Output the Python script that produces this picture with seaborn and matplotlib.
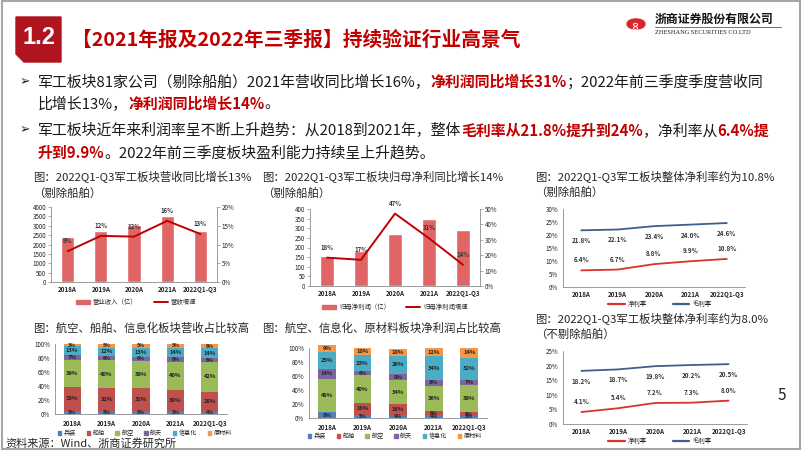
import matplotlib
matplotlib.use('Agg')
import matplotlib.pyplot as plt
from matplotlib.patches import Patch, Polygon, Rectangle, Circle
from matplotlib.lines import Line2D
import numpy as np
import seaborn as sns

# 数据
years = ['2018A', '2019A', '2020A', '2021A', '2022Q1-Q3']
revenue = [2420, 2700, 3030, 3520, 2700]
revenue_growth = [8.2, 12.3, 12.1, 16.3, 12.8]
revenue_growth_labels = ['8%', '12%', '12%', '16%', '13%']
profit = [155, 180, 268, 350, 293]
profit_growth = [18.4, 17.0, 47.0, 31.0, 13.8]
profit_growth_labels = ['18%', '17%', '47%', '31%', '14%']
net_margin_ex = [6.4, 6.7, 8.8, 9.9, 10.8]
gross_margin_ex = [21.8, 22.1, 23.4, 24.0, 24.6]
net_margin_all = [4.1, 5.4, 7.2, 7.3, 8.0]
gross_margin_all = [18.2, 18.7, 19.8, 20.2, 20.5]
sectors = ['兵装', '船舶', '航空', '航天', '信息化', '原材料']
rev_share = {
    '兵装': [5, 5, 5, 5, 4],
    '船舶': [33, 32, 32, 30, 28],
    '航空': [39, 40, 39, 40, 42],
    '航天': [7, 6, 6, 6, 6],
    '信息化': [13, 12, 13, 14, 14],
    '原材料': [3, 5, 5, 5, 6],
}
profit_share = {
    '兵装': [8, 5, 4, 4, 3],
    '船舶': [0, 16, 16, 6, 5],
    '航空': [48, 40, 34, 36, 39],
    '航天': [14, 6, 9, 8, 7],
    '信息化': [25, 23, 26, 34, 32],
    '原材料': [9, 10, 10, 12, 14],
}
sector_colors = ['#4F81BD', '#C0504D', '#9BBB59', '#8064A2', '#4BACC6', '#F79646']

W, H = 802, 451
sns.set_theme(style='white')
plt.rcParams['font.family'] = ['Noto Sans CJK SC', 'DejaVu Sans']
plt.rcParams['axes.unicode_minus'] = False

fig = plt.figure(figsize=(W / 100, H / 100), dpi=100)
fig.patch.set_facecolor('white')
renderer = fig.canvas.get_renderer()

RED = '#C00000'
GRAY = '#8C8C8C'


def fx(x):
    return x / W


def fy(y):
    return 1 - y / H


def box(x0, y0, x1, y1):
    return fig.add_axes([fx(x0), fy(y1), (x1 - x0) / W, (y1 - y0) / H])


def rich(x, y, parts, size):
    for s, red in parts:
        t = fig.text(fx(x), fy(y), s, fontsize=size, va='center', ha='left',
                     color=RED if red else '#1A1A1A',
                     weight='bold' if red else 'normal')
        x += t.get_window_extent(renderer).width


def style_axis(ax, fs=4.5):
    for s in ['top', 'right']:
        ax.spines[s].set_visible(False)
    for s in ['left', 'bottom']:
        ax.spines[s].set_color(GRAY)
        ax.spines[s].set_linewidth(0.6)
    ax.tick_params(axis='both', labelsize=fs, length=2, width=0.5, color=GRAY,
                   pad=1.5, labelcolor='#222222')
    ax.tick_params(axis='x', length=0, pad=3)
    for lab in ax.get_xticklabels():
        lab.set_fontweight('bold')
    ax.set_xlabel('')
    ax.set_ylabel('')


# ---- 页眉 ----
fig.add_artist(Rectangle((0.002, 0.004), 0.996, 0.994, transform=fig.transFigure,
                         fill=False, edgecolor='#A6A6A6', lw=1.5))
fig.add_artist(Polygon([[fx(16), fy(17)], [fx(61), fy(17)], [fx(61), fy(62)],
                        [fx(24), fy(62)], [fx(16), fy(54)]],
                       closed=True, transform=fig.transFigure, color='#B0141E'))
fig.text(fx(38.5), fy(38), '1.2', color='white', fontsize=17, weight='bold',
         ha='center', va='center', family='Liberation Sans')
fig.text(fx(72), fy(40), '【2021年报及2022年三季报】持续验证行业高景气', color=RED,
         fontsize=14.2, weight='bold', ha='left', va='center')
fig.add_artist(Circle((fx(636), fy(24)), 9 / W, transform=fig.transFigure,
                      color='#D7262B'))
fig.text(fx(636), fy(24), '∞', color='white', fontsize=8, ha='center', va='center',
         rotation=90, family='DejaVu Sans', weight='bold')
fig.text(fx(655), fy(19), '浙商证券股份有限公司', fontsize=8.6, weight='bold',
         ha='left', va='center', color='#111111')
fig.add_artist(Line2D([fx(655), fx(781)], [fy(27), fy(27)], transform=fig.transFigure,
                      color='#D7262B', lw=0.6))
fig.text(fx(655), fy(32.5), 'ZHESHANG SECURITIES CO.LTD', fontsize=4.6,
         family='Liberation Serif', ha='left', va='center', color='#222222')

# ---- 要点 ----
bfs = 10.75
for yy in (82, 130):
    fig.text(fx(20), fy(yy), '➢', fontsize=9, va='center', ha='left',
             family=['DejaVu Sans'], color='#1A1A1A')
rich(38, 82, [('军工板块81家公司（剔除船舶）2021年营收同比增长16%，', False),
              ('净利润同比增长31%', True), ('；2022年前三季度季度营收同', False)], bfs)
rich(38, 104, [('比增长13%，', False), ('净利润同比增长14%', True), ('。', False)], bfs)
rich(38, 131, [('军工板块近年来利润率呈不断上升趋势：从2018到2021年，整体', False),
               ('毛利率从21.8%提升到24%', True), ('，净利率从', False),
               ('6.4%提', True)], bfs)
rich(38, 153, [('升到9.9%', True), ('。2022年前三季度板块盈利能力持续呈上升趋势。', False)], bfs)

tfs = 8.2
fig.text(fx(33), fy(177), '图：2022Q1-Q3军工板块营收同比增长13%', fontsize=tfs, va='center')
fig.text(fx(33), fy(193), '（剔除船舶）', fontsize=tfs, va='center')
fig.text(fx(262), fy(177), '图：2022Q1-Q3军工板块归母净利同比增长14%', fontsize=tfs, va='center')
fig.text(fx(262), fy(193), '（剔除船舶）', fontsize=tfs, va='center')
fig.text(fx(535), fy(176), '图：2022Q1-Q3军工板块整体净利率约为10.8%', fontsize=tfs, va='center')
fig.text(fx(535), fy(192), '（剔除船舶）', fontsize=tfs, va='center')
fig.text(fx(33), fy(328), '图：航空、船舶、信息化板块营收占比较高', fontsize=tfs, va='center')
fig.text(fx(262), fy(328), '图：航空、信息化、原材料板块净利润占比较高', fontsize=tfs, va='center')
fig.text(fx(535), fy(318), '图：2022Q1-Q3军工板块整体净利率约为8.0%', fontsize=tfs, va='center')
fig.text(fx(535), fy(334), '（不剔除船舶）', fontsize=tfs, va='center')
fig.text(fx(5), fy(443), '资料来源：Wind、浙商证券研究所', fontsize=8, va='center')
fig.text(fx(782), fy(396), '5', fontsize=11, va='center', ha='center', color='#222222')

BAR = '#E06666'
xs = np.arange(len(years))


def bar_line(ax, bars, growth, labels, ymax, ystep, rmax, rstep, names, legend_xy):
    sns.barplot(x=years, y=bars, ax=ax, color=BAR, width=0.4, saturation=1)
    ax.set_ylim(0, ymax)
    ax.set_yticks(np.arange(0, ymax + 1, ystep))
    style_axis(ax)
    ax2 = ax.twinx()
    sns.lineplot(x=xs, y=growth, ax=ax2, color=RED, lw=1.4)
    ax2.set_ylim(0, rmax)
    ax2.set_yticks(np.arange(0, rmax + 0.1, rstep))
    ax2.set_yticklabels([f'{int(v)}%' for v in np.arange(0, rmax + 0.1, rstep)])
    ax2.set_xlim(-0.5, len(years) - 0.5)
    for s in ['top', 'left', 'bottom']:
        ax2.spines[s].set_visible(False)
    ax2.spines['right'].set_color(GRAY)
    ax2.spines['right'].set_linewidth(0.6)
    ax2.tick_params(axis='y', labelsize=4.5, length=2, width=0.5, color=GRAY, pad=1.5,
                    labelcolor='#222222')
    ax2.set_ylabel('')
    for i, (v, lab) in enumerate(zip(growth, labels)):
        ax2.annotate(lab, (i, v), xytext=(0, 5), textcoords='offset points',
                     ha='center', va='bottom', fontsize=4.3, weight='bold', color='#333333')
    handles = [Patch(color=BAR), Line2D([0], [0], color=RED, lw=1.4)]
    fig.legend(handles, names, loc='center', bbox_to_anchor=(fx(legend_xy[0]), fy(legend_xy[1])),
               ncol=2, frameon=False, fontsize=4.6, handlelength=2.2, handleheight=0.7,
               columnspacing=2.5, handletextpad=0.5)


ax1 = box(51, 207, 217, 282)
bar_line(ax1, revenue, revenue_growth, revenue_growth_labels, 4000, 500, 20, 5,
         ['营业收入（亿）', '营收增速'], (136, 302))
ax2 = box(310, 209, 480, 286)
bar_line(ax2, profit, profit_growth, profit_growth_labels, 400, 50, 50, 10,
         ['归母净利润（亿）', '归母净利润增速'], (395, 307))


def margin_chart(ax, net, gross, ymax, legend_xy):
    sns.lineplot(x=xs, y=gross, ax=ax, color='#3D5F8C', lw=1.3)
    sns.lineplot(x=xs, y=net, ax=ax, color='#D9312B', lw=1.3)
    ax.set_xlim(-0.5, len(years) - 0.5)
    ax.set_ylim(0, ymax)
    ticks = np.arange(0, ymax + 0.1, 5)
    ax.set_yticks(ticks)
    ax.set_yticklabels([f'{int(t)}%' for t in ticks])
    ax.set_xticks(xs)
    ax.set_xticklabels(years)
    style_axis(ax)
    for i in xs:
        ax.annotate(f'{gross[i]:.1f}%', (i, gross[i]), xytext=(0, -5), textcoords='offset points',
                    ha='center', va='top', fontsize=4.5, weight='bold', color='#333333')
        ax.annotate(f'{net[i]:.1f}%', (i, net[i]), xytext=(0, 5), textcoords='offset points',
                    ha='center', va='bottom', fontsize=4.5, weight='bold', color='#333333')
    handles = [Line2D([0], [0], color='#D9312B', lw=1.6), Line2D([0], [0], color='#3D5F8C', lw=1.6)]
    fig.legend(handles, ['净利率', '毛利率'], loc='center',
               bbox_to_anchor=(fx(legend_xy[0]), fy(legend_xy[1])), ncol=2, frameon=False,
               fontsize=4.6, handlelength=2.6, columnspacing=4, handletextpad=0.5)


ax3 = box(563, 209, 745, 287)
margin_chart(ax3, net_margin_ex, gross_margin_ex, 30, (660, 304))
ax6 = box(563, 351, 747, 424)
margin_chart(ax6, net_margin_all, gross_margin_all, 25, (660, 441))


def stack_chart(ax, shares, legend_xy):
    bottom = np.zeros(len(years))
    for name, color in zip(sectors, sector_colors):
        vals = np.array(shares[name], dtype=float)
        ax.bar(xs, vals, bottom=bottom, width=0.5, color=color, edgecolor='none', clip_on=False)
        for i, v in enumerate(vals):
            if v > 0:
                ax.text(i, bottom[i] + v / 2, f'{int(v)}%', ha='center', va='center',
                        fontsize=4.2 if v >= 7 else 3.7, weight='bold', color='#222222')
        bottom += vals
    ax.set_xlim(-0.5, len(years) - 0.5)
    ax.set_ylim(0, 100)
    ax.set_yticks(np.arange(0, 101, 20))
    ax.set_yticklabels([f'{t}%' for t in range(0, 101, 20)])
    ax.set_xticks(xs)
    ax.set_xticklabels(years)
    style_axis(ax)
    ax.tick_params(axis='x', pad=4)
    handles = [Patch(color=c) for c in sector_colors]
    fig.legend(handles, sectors, loc='center',
               bbox_to_anchor=(fx(legend_xy[0]), fy(legend_xy[1])), ncol=6, frameon=False,
               fontsize=4.4, handlelength=0.6, handleheight=0.6, columnspacing=1.7,
               handletextpad=0.4)


ax4 = box(55, 344, 227, 414)
stack_chart(ax4, rev_share, (145, 433))
ax5 = box(309, 348, 487, 418)
stack_chart(ax5, profit_share, (395, 436))

fig.savefig('out.png', dpi=100, facecolor='white')
